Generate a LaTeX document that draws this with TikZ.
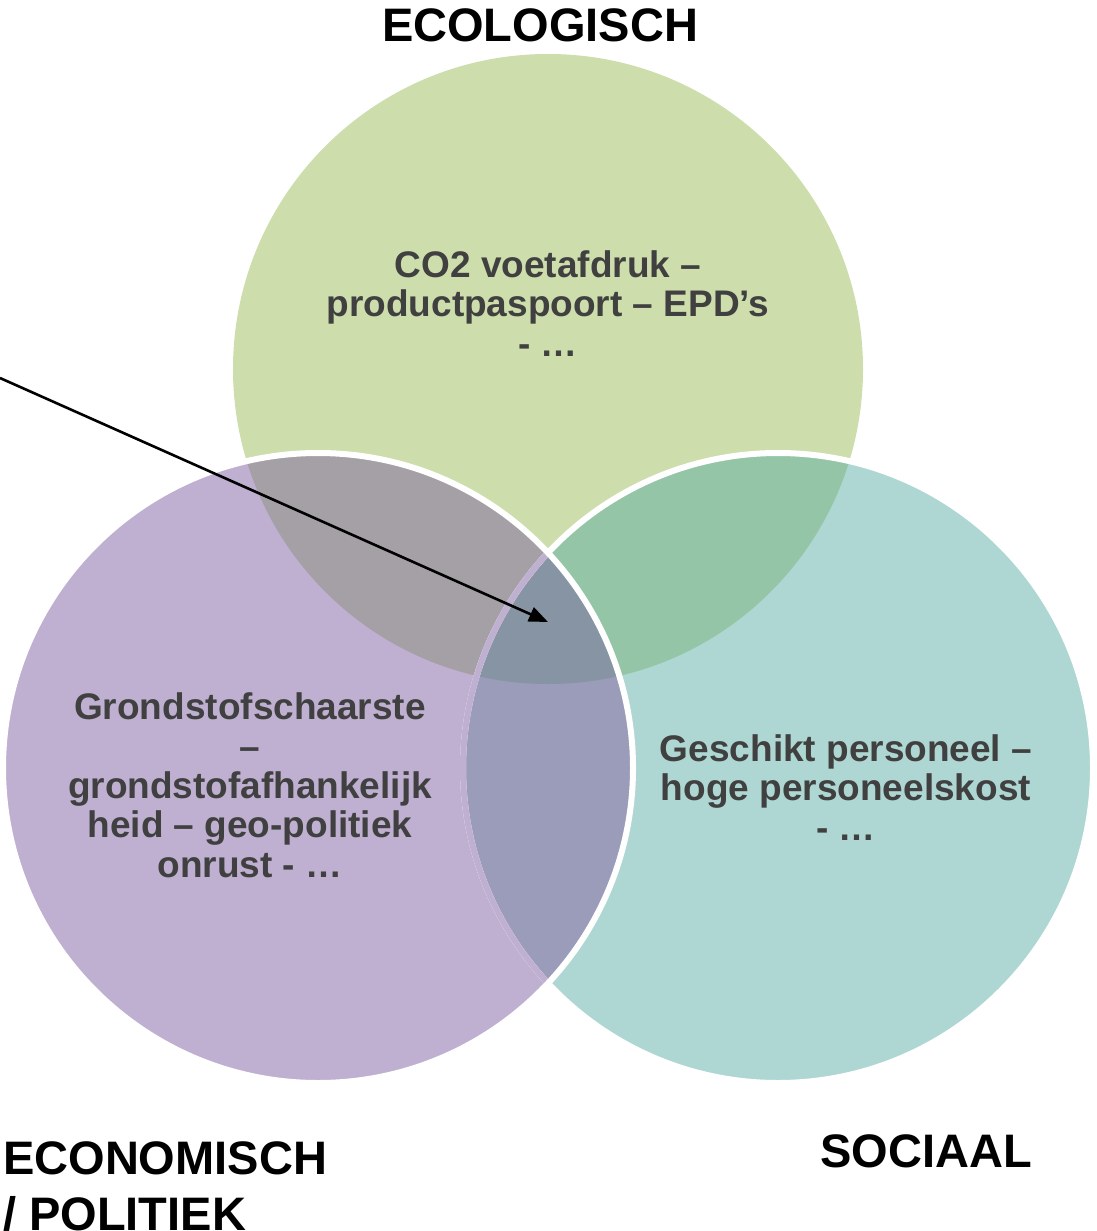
\documentclass[tikz,border=0pt]{standalone}
\usepackage{fontspec}
\setmainfont{Liberation Sans}
\usetikzlibrary{arrows.meta}
\definecolor{cgreen}{HTML}{CDDDAC}
\definecolor{cpurple}{HTML}{BFB0D1}
\definecolor{cteal}{HTML}{AED7D3}
\definecolor{cgp}{HTML}{A59FA6}
\definecolor{cgt}{HTML}{95C5A7}
\definecolor{cpt}{HTML}{9A9CBA}
\definecolor{cctr}{HTML}{8794A3}
\definecolor{ctext}{HTML}{404040}
\tikzset{
  title/.style={font=\bfseries\fontsize{47}{56}\selectfont, text=black, inner sep=0pt},
  inner/.style={font=\bfseries\fontsize{37}{39.3}\selectfont, text=ctext, inner sep=0pt, align=center},
  rim/.style={draw=white, line width=6pt},
}
\begin{document}
\begin{tikzpicture}[x=1pt,y=-1pt]
\useasboundingbox (0,0) rectangle (1096,1231);
\coordinate (G) at (548,369);
\coordinate (P) at (318,768);
\coordinate (T) at (778,768);
\def\R{315pt}
% base fills
\fill[cgreen] (G) circle[radius=\R];
\fill[cpurple] (P) circle[radius=\R];
\fill[cteal] (T) circle[radius=\R];
% pairwise overlaps
\begin{scope}
  \clip (G) circle[radius=\R];
  \fill[cgp] (P) circle[radius=\R];
  \fill[cgt] (T) circle[radius=\R];
\end{scope}
\begin{scope}
  \clip (P) circle[radius=\R];
  \fill[cpt] (T) circle[radius=\R];
  \clip (T) circle[radius=\R];
  \fill[cctr] (G) circle[radius=\R];
\end{scope}
% outlines
\draw[rim] (T) circle[radius=\R];
\begin{scope}
  \clip (P) circle[radius=\R];
  \draw[draw=cpurple, line width=6pt] (T) circle[radius=\R];
\end{scope}
\draw[rim] (P) circle[radius=\R];
% titles
\node[title, anchor=base] (eco) at (540,42) {ECOLOGISCH};
\node[title, anchor=base west, align=left] (econ) at (3,1230) {ECONOMISCH\\/ POLITIEK};
\node[title, anchor=base] (soc) at (926,1167) {SOCIAAL};
% inner texts
\node[inner, anchor=base] (tg) at (548,356) {CO2 voetafdruk –\\productpaspoort – EPD’s\\- …};
\node[inner, anchor=base] (tp) at (250,877) {Grondstofschaarste\\–\\grondstofafhankelijk\\heid – geo-politiek\\onrust - …};
\node[inner, anchor=base] (tt) at (846,840) {Geschikt personeel –\\hoge personeelskost\\- …};
% arrow
\coordinate (from) at (0,378);
\coordinate (tip) at (548,622);
\draw[line width=2.6pt, -{Triangle[length=19pt,width=15pt]}] (from) -- (tip);
\end{tikzpicture}
\end{document}
